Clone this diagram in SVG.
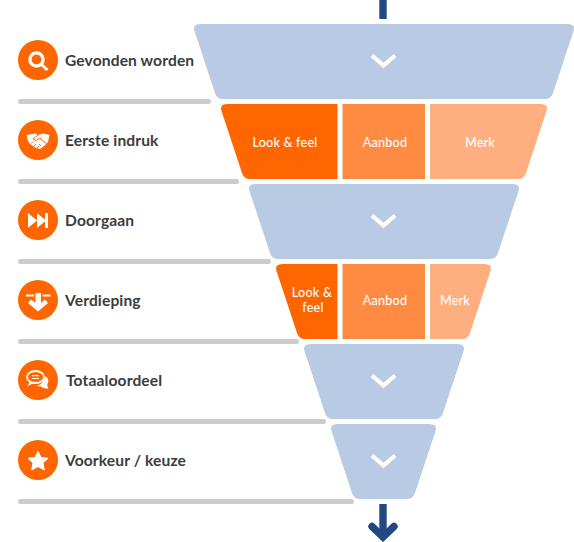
<svg xmlns="http://www.w3.org/2000/svg" width="574" height="542" viewBox="0 0 574 542">
<style>
.blue{fill:#b8cae4}
.o1{fill:#ff6600}.o2{fill:#ff8a42}.o3{fill:#ffae80}
.rule{fill:#cccccc}
.ic{fill:#ff6600}
.w{fill:#ffffff}
.ws{fill:none;stroke:#ffffff}
.os{fill:none;stroke:#ff6600}
.chev{fill:none;stroke:#ffffff;stroke-width:4.2}
.lab{font-family:"Lato","Liberation Sans",sans-serif;font-weight:700;font-size:15.6px;letter-spacing:.12px;fill:#3c3c3c}
.cell{font-family:"Lato","Liberation Sans",sans-serif;font-weight:500;font-size:12.6px;letter-spacing:.2px;fill:#ffffff;text-anchor:middle}
.arr{fill:none;stroke:#234a80;stroke-width:7.4}
</style>
<g id="connectors">
<path class="arr" d="M383 0V19"/>
<path class="arr" d="M383 504V536"/>
<path class="arr" stroke-linecap="round" stroke-linejoin="miter" d="M372 526.500L383 537L394 526.500"/>
</g>
<g id="rules">
<rect class="rule" x="18" y="99" width="193" height="5" rx="2.500"/>
<rect class="rule" x="18" y="179" width="221" height="5" rx="2.500"/>
<rect class="rule" x="18" y="259" width="253" height="5" rx="2.500"/>
<rect class="rule" x="18" y="339" width="281" height="5" rx="2.500"/>
<rect class="rule" x="18" y="419" width="308" height="5" rx="2.500"/>
<rect class="rule" x="18" y="499" width="336" height="5" rx="2.500"/>
</g>
<g id="funnel-1">
<path class="blue" d="M201 24H567Q576 24 573.500 31L553 93Q551 99 545 99H223Q217 99 215 93L194.500 31Q192 24 201 24Z"/>
<path class="chev" d="M372 55.500L383.500 65.500L395 55.500"/>
</g>
<g id="funnel-2">
<path class="o1" d="M228 104H337.500V179H250Q244 179 242 173L221.500 111Q219 104 228 104Z"/>
<rect class="o2" x="342.500" y="104" width="82.500" height="75"/>
<path class="o3" d="M430 104H540Q549 104 546.500 111L526 173Q524 179 518 179H430Z"/>
<text class="cell" x="285" y="147">Look &amp; feel</text>
<text class="cell" x="385" y="147">Aanbod</text>
<text class="cell" x="480" y="147">Merk</text>
</g>
<g id="funnel-3">
<path class="blue" d="M256 184H512Q521 184 518.500 191L498 253Q496 259 490 259H278Q272 259 270 253L249.500 191Q247 184 256 184Z"/>
<path class="chev" d="M372 215.500L383.500 225.500L395 215.500"/>
</g>
<g id="funnel-4">
<path class="o1" d="M283 264H337.500V339H305Q299 339 297 333L276.500 271Q274 264 283 264Z"/>
<rect class="o2" x="342.500" y="264" width="82.500" height="75"/>
<path class="o3" d="M430 264H484Q493 264 490.500 271L470 333Q468 339 462 339H430Z"/>
<text class="cell" x="312" y="297">Look &amp;</text>
<text class="cell" x="313" y="312">feel</text>
<text class="cell" x="385" y="305">Aanbod</text>
<text class="cell" x="455" y="305">Merk</text>
</g>
<g id="funnel-5">
<path class="blue" d="M311 344H457Q466 344 463.500 351L443 413Q441 419 435 419H333Q327 419 325 413L304.500 351Q302 344 311 344Z"/>
<path class="chev" d="M372 375.500L383.500 385.500L395 375.500"/>
</g>
<g id="funnel-6">
<path class="blue" d="M338 424H429Q438 424 435.500 431L415 493Q413 499 407 499H360Q354 499 352 493L331.500 431Q329 424 338 424Z"/>
<path class="chev" d="M372 455.500L383.500 465.500L395 455.500"/>
</g>
<g id="step-1">
<circle class="ic" cx="38" cy="60" r="20"/>
<circle class="ws" cx="36.500" cy="59.500" r="6.600" stroke-width="3.300"/>
<path class="ws" stroke-width="3" d="M41.500 64.500L47.500 70"/>
<text class="lab" x="65" y="66">Gevonden worden</text>
</g>
<g id="step-2">
<circle class="ic" cx="38" cy="140" r="20"/>
<path class="w" d="M26.500 135L35 133.500L38 135L43 133.500L49.500 135L48 142L44 146L40 149L36 148L30 144L28 141Z"/>
<path class="os" stroke-width="1" d="M38 135L33 139L36 140.500L40 138L46 143.500M31 143.500L33 141.500M34 146L36 144M37 148L39 146M41 146L39 144"/>
<text class="lab" x="65" y="146">Eerste indruk</text>
</g>
<g id="step-3">
<circle class="ic" cx="38" cy="220" r="20"/>
<path class="w" d="M28 213V228L37 220.500ZM37 213V228L46 220.500Z"/>
<rect class="w" x="45" y="213" width="3" height="15"/>
<text class="lab" x="65" y="226">Doorgaan</text>
</g>
<g id="step-4">
<circle class="ic" cx="38" cy="300" r="20"/>
<path class="w" d="M35.500 293H41V303L45 299.500L48 303L38 311.500L28 303L31 299.500L35.500 303Z"/>
<path class="ws" stroke-width="2" d="M26 295.500H34M42.500 295.500H50.500"/>
<text class="lab" x="65" y="306">Verdieping</text>
</g>
<g id="step-5">
<circle class="ic" cx="38" cy="380" r="20"/>
<path class="w" d="M45.500 376Q50 380 47.500 384Q46.500 386 48.500 388.500Q43 388.500 41 386.500L36 386Q43 385 45.500 376Z"/>
<ellipse class="ws" cx="35.500" cy="377" rx="8.500" ry="6" stroke-width="1.800"/>
<path class="w" d="M30 381.500L27.500 386L34 383Z"/>
<path class="ws" stroke-width="1.200" d="M32 375.700H39M32 378.500H39"/>
<text class="lab" x="66" y="386">Totaaloordeel</text>
</g>
<g id="step-6">
<circle class="ic" cx="38" cy="460" r="20"/>
<path class="w" d="M38 451L41 457.500L48 458.300L43 463L44.300 470L38 466.500L31.700 470L33 463L28 458.300L35 457.500Z" stroke="#fff" stroke-width="1" stroke-linejoin="round"/>
<text class="lab" x="65" y="466">Voorkeur / keuze</text>
</g>
</svg>
